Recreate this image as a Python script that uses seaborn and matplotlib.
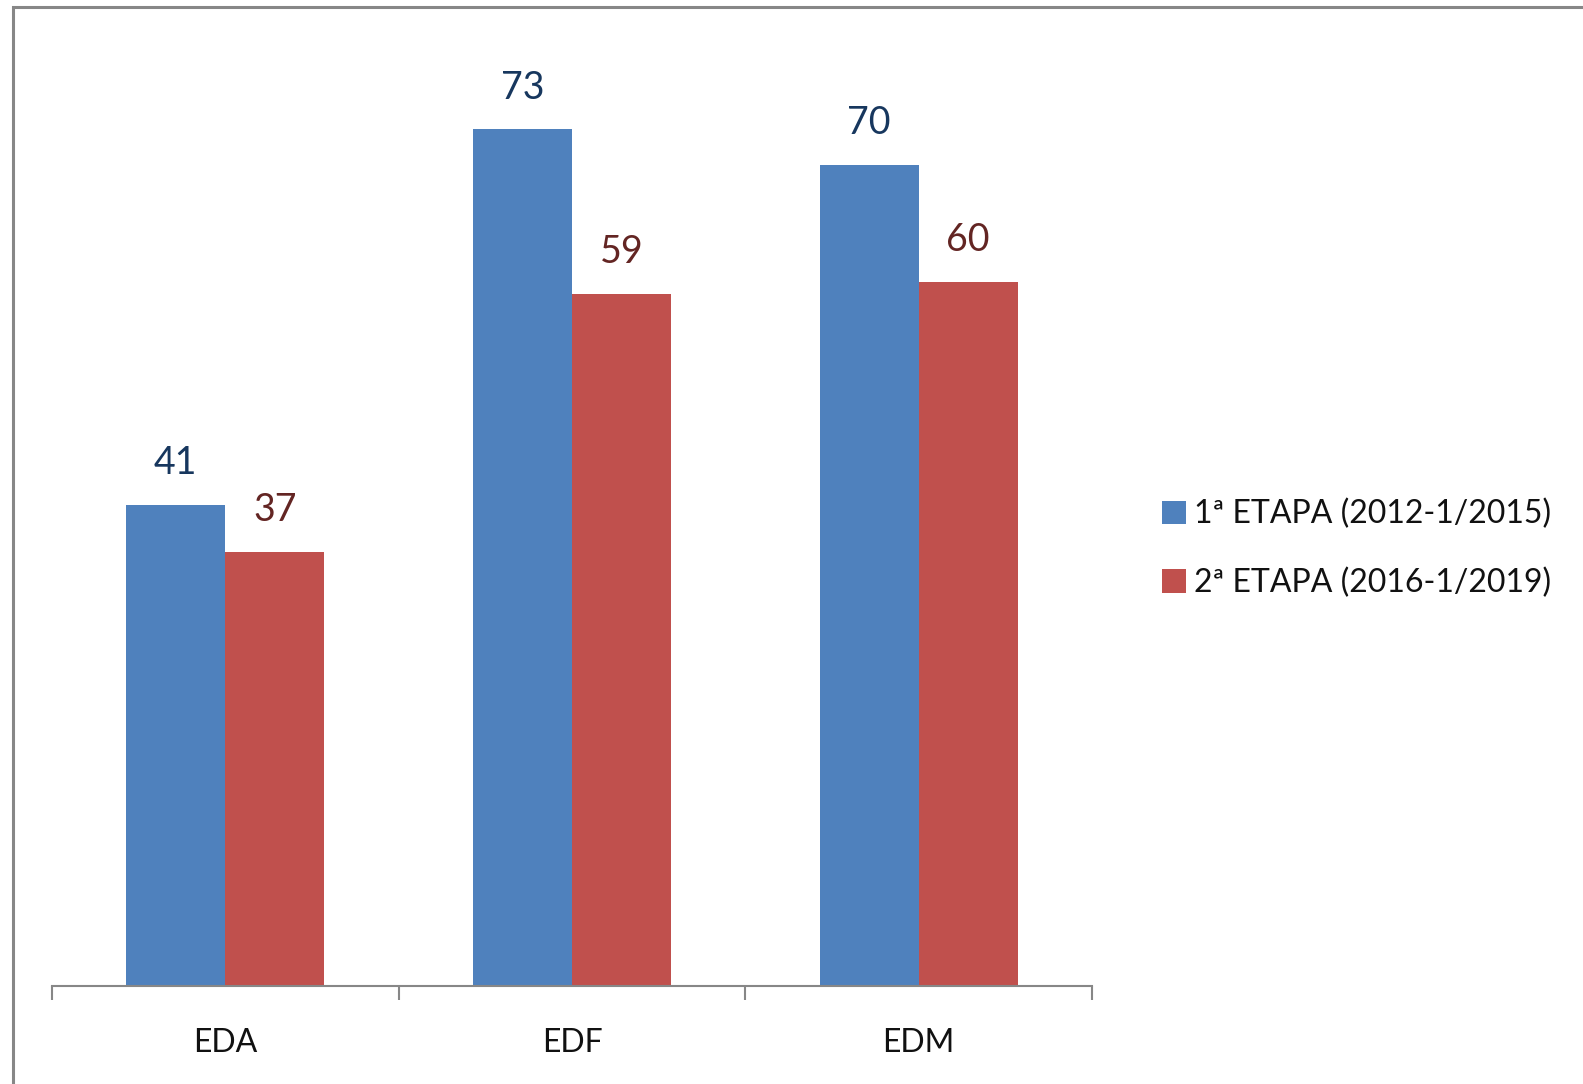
import matplotlib
matplotlib.use("Agg")
import matplotlib.pyplot as plt
import seaborn as sns
import pandas as pd
from matplotlib.patches import Rectangle
from matplotlib.ticker import FixedLocator

categories = ["EDA", "EDF", "EDM"]
series_names = ["1ª ETAPA (2012-1/2015)", "2ª ETAPA (2016-1/2019)"]
values_1 = [41, 73, 70]
values_2 = [37, 59, 60]

colors = ["#4F81BD", "#C0504D"]
label_colors = ["#17375E", "#632523"]

df = pd.DataFrame({
    "cat": categories * 2,
    "serie": [series_names[0]] * 3 + [series_names[1]] * 3,
    "val": values_1 + values_2,
})

sns.set_theme(style="white")
plt.rcParams["font.family"] = ["Lato", "DejaVu Sans"]

W, H = 1583, 1084
fig = plt.figure(figsize=(W / 100, H / 100), dpi=100)
fig.patch.set_facecolor("white")

# outer border (cut off right & bottom)
fig.patches.append(Rectangle((13 / W, -0.1), 1.2, (H - 7) / H + 0.1,
                             transform=fig.transFigure, fill=False,
                             edgecolor="#878787", linewidth=2.2, zorder=0))

ax_l, ax_r = 52 / W, 1092 / W
base = 986
top = base - 80 * 11.735
ax = fig.add_axes([ax_l, (H - base) / H, ax_r - ax_l, (base - top) / H])

sns.barplot(data=df, x="cat", y="val", hue="serie", palette=colors,
            width=0.572, saturation=1, ax=ax, edgecolor="none", linewidth=0)

ax.set_ylim(0, 80)
ax.set_xlim(-0.5, 2.5)
for c, lc in zip(ax.containers, label_colors):
    ax.bar_label(c, labels=[f"{int(v)}" for v in c.datavalues], padding=17,
                 color=lc, fontsize=27)

for s in ["top", "right", "left"]:
    ax.spines[s].set_visible(False)
ax.spines["bottom"].set_color("#878787")
ax.spines["bottom"].set_linewidth(1.5)
ax.set_yticks([])
ax.set_xlabel("")
ax.set_ylabel("")
ax.tick_params(axis="x", which="major", length=0, pad=30, labelsize=23, labelcolor="#111111")
ax.xaxis.set_minor_locator(FixedLocator([-0.5, 0.5, 1.5, 2.5]))
ax.tick_params(axis="x", which="minor", length=10, width=1.5, color="#878787", bottom=True)
ax.set_facecolor("white")

leg = ax.legend(loc="center left", bbox_to_anchor=(1.04, 0.466), frameon=False,
                fontsize=23, handlelength=0.75, handleheight=0.75,
                handletextpad=0.25, labelspacing=1.2)
for t in leg.get_texts():
    t.set_color("#111111")

fig.savefig("out.png", dpi=100, facecolor="white")
